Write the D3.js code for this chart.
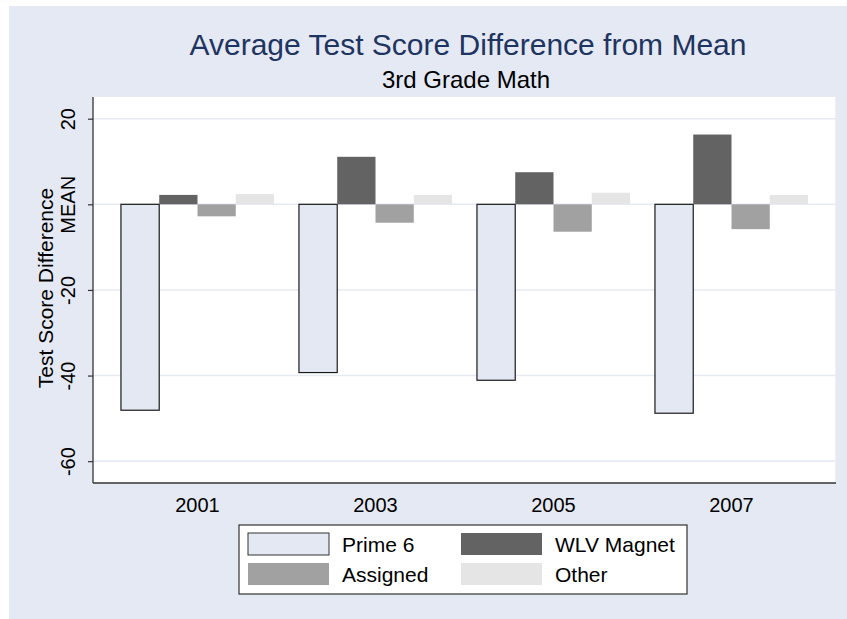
<!DOCTYPE html>
<html>
<head>
<meta charset="utf-8">
<script src="https://cdn.jsdelivr.net/npm/d3@7"></script>
<style>
  body { margin: 0; background: #fff; }
  svg { display: block; font-family: "Liberation Sans", Arial, sans-serif; }
</style>
</head>
<body>
<svg id="chart" width="847" height="619"></svg>
<script>
// years along the x axis
const years = ["2001", "2003", "2005", "2007"];

// difference from mean, one list per school group
const prime6 = [-48.1, -39.3, -41.1, -48.8];
const wlvMagnet = [2.2, 11.1, 7.5, 16.3];
const assigned = [-2.8, -4.3, -6.4, -5.8];
const other = [2.4, 2.2, 2.7, 2.2];

const seriesNames = ["Prime 6", "WLV Magnet", "Assigned", "Other"];
const yTicks = [20, 0, -20, -40, -60];
const yTickLabels = ["20", "MEAN", "-20", "-40", "-60"];

const colors = {
  "Prime 6": "#e4e8f2",
  "WLV Magnet": "#636363",
  "Assigned": "#a1a1a1",
  "Other": "#e5e5e5"
};

const seriesValues = [prime6, wlvMagnet, assigned, other];

// build rows for d3
const rows = years.map((yr, i) => ({
  year: yr,
  values: seriesNames.map((s, j) => ({ key: s, value: seriesValues[j][i] }))
}));

const svg = d3.select('#chart');

// the grey-blue page panel
svg.append('rect')
  .attr('x', 9).attr('y', 6)
  .attr('width', 838).attr('height', 613)
  .attr('fill', '#e5e9f3');

const plot = { left: 93, right: 836, top: 97, bottom: 483 };

const x0 = d3.scaleBand()
  .domain(years)
  .range([plot.left, plot.right])
  .paddingInner(0.14)
  .paddingOuter(0.157);

const x1 = d3.scaleBand()
  .domain(seriesNames)
  .range([0, x0.bandwidth()])
  .padding(0);

const y = d3.scaleLinear()
  .domain([-65.1, 25.07])
  .range([plot.bottom, plot.top]);

// plot region
svg.append('rect')
  .attr('x', plot.left).attr('y', plot.top)
  .attr('width', plot.right - plot.left)
  .attr('height', plot.bottom - plot.top)
  .attr('fill', '#ffffff');

// grid lines
svg.append('g').selectAll('line').data(yTicks)
  .enter().append('line')
  .attr('x1', plot.left).attr('x2', plot.right)
  .attr('y1', d => y(d)).attr('y2', d => y(d))
  .attr('stroke', '#e6eaf3')
  .attr('stroke-width', 1.6);

// right edge of plot region
svg.append('line')
  .attr('x1', plot.right).attr('x2', plot.right)
  .attr('y1', plot.top).attr('y2', plot.bottom)
  .attr('stroke', '#e6eaf3')
  .attr('stroke-width', 1.5);

// bars
const groups = svg.append('g').selectAll('g').data(rows)
  .enter().append('g')
  .attr('transform', d => `translate(${x0(d.year)},0)`);

groups.selectAll('rect').data(d => d.values)
  .enter().append('rect')
  .attr('x', d => x1(d.key))
  .attr('width', x1.bandwidth())
  .attr('y', d => y(Math.max(0, d.value)))
  .attr('height', d => Math.abs(y(d.value) - y(0)))
  .attr('fill', d => colors[d.key])
  .attr('stroke', d => d.key == "Prime 6" ? '#1a1a1a' : 'none')
  .attr('stroke-width', 1.2);

// y axis
const yAxis = svg.append('g')
  .attr('transform', `translate(${plot.left},0)`)
  .call(d3.axisLeft(y).tickValues(yTicks).tickSize(5)
    .tickFormat((d, i) => yTickLabels[i]));

yAxis.select('.domain').attr('stroke', '#333').attr('stroke-width', 1.3)
  .attr('d', `M0,${plot.top}V${plot.bottom}`);
yAxis.selectAll('.tick line').attr('stroke', '#333').attr('stroke-width', 1.2);
yAxis.selectAll('.tick text')
  .attr('x', 0).attr('y', 0).attr('dy', null)
  .attr('transform', 'translate(-18,0) rotate(-90)')
  .attr('text-anchor', 'middle')
  .attr('font-size', 20)
  .attr('font-family', '"Liberation Sans", Arial, sans-serif')
  .attr('fill', '#000');

// x axis: baseline only, no ticks
svg.append('line')
  .attr('x1', plot.left).attr('x2', plot.right)
  .attr('y1', plot.bottom).attr('y2', plot.bottom)
  .attr('stroke', '#333').attr('stroke-width', 1.3);

svg.append('g').selectAll('text').data(years)
  .enter().append('text')
  .attr('x', d => x0(d) + x0.bandwidth() / 2)
  .attr('y', 512)
  .attr('text-anchor', 'middle')
  .attr('font-size', 20)
  .text(d => d);

// y axis title
svg.append('text')
  .attr('transform', `translate(53,${(plot.top + plot.bottom) / 2 - 2}) rotate(-90)`)
  .attr('text-anchor', 'middle')
  .attr('font-size', 21)
  .text('Test Score Difference');

// titles
svg.append('text')
  .attr('x', 468).attr('y', 55)
  .attr('text-anchor', 'middle')
  .attr('font-size', 30)
  .attr('fill', '#1e3461')
  .text('Average Test Score Difference from Mean');

svg.append('text')
  .attr('x', 466).attr('y', 88)
  .attr('text-anchor', 'middle')
  .attr('font-size', 24)
  .attr('fill', '#000')
  .text('3rd Grade Math');

// legend
const legend = svg.append('g');
legend.append('rect')
  .attr('x', 239).attr('y', 525)
  .attr('width', 448).attr('height', 69)
  .attr('fill', '#fff')
  .attr('stroke', '#333').attr('stroke-width', 1.2);

const legendPos = [
  { key: "Prime 6", x: 248, y: 533 },
  { key: "WLV Magnet", x: 461, y: 533 },
  { key: "Assigned", x: 248, y: 563 },
  { key: "Other", x: 461, y: 563 }
];

legendPos.forEach(p => {
  legend.append('rect')
    .attr('x', p.x).attr('y', p.y)
    .attr('width', 81).attr('height', 22)
    .attr('fill', colors[p.key])
    .attr('stroke', p.key == "Prime 6" ? '#333' : 'none');
  legend.append('text')
    .attr('x', p.x + 94).attr('y', p.y + 19)
    .attr('font-size', 21)
    .text(p.key);
});
</script>
</body>
</html>
